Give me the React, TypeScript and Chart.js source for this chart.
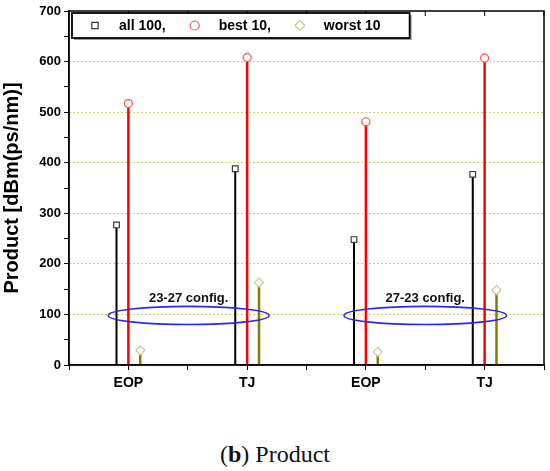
import React, { useEffect, useRef } from "react";
import { Chart, registerables } from "chart.js";
import { drawPoint } from "chart.js/helpers";

Chart.register(...registerables);

// ---- data ----
const categories = ["EOP", "TJ", "EOP", "TJ"];
const all100 = [277, 388, 248, 377];
const best10 = [517, 608, 481, 607];
const worst10 = [29, 163, 26, 148];
const yTicks = [0, 100, 200, 300, 400, 500, 600, 700];
const groupLabels = ["23-27 config.", "27-23 config."];
const groupFrom = [0.66, 4.63];
const groupTo = [3.37, 7.37];
const groupLevel = [98, 98];
const groupHalfHeight = [18, 18];

const catX = (i: number) => 2 * i + 1;

const seriesDefs = [
  { label: "all 100,", values: all100, off: -0.2, stem: "#000000", stemW: 2, style: "rect", mk: "#3a3a3a", r: 4 },
  { label: "best 10,", values: best10, off: 0, stem: "#ff0000", stemW: 2.5, style: "circle", mk: "#ff5050", r: 4 },
  { label: "worst 10", values: worst10, off: 0.2, stem: "#808000", stemW: 2.5, style: "rectRot", mk: "#c8c890", r: 4.5 },
];

const framePlugin = {
  id: "frame",
  afterDraw(chart: any) {
    const { ctx, chartArea: a, scales } = chart;
    ctx.save();
    ctx.strokeStyle = "#000";
    ctx.lineWidth = 1.5;
    ctx.strokeRect(a.left, a.top, a.right - a.left, a.bottom - a.top);
    ctx.lineWidth = 1;
    const xs = scales.x;
    for (let v = xs.min; v <= xs.max; v++) {
      const px = xs.getPixelForValue(v);
      ctx.beginPath();
      ctx.moveTo(px, a.top);
      ctx.lineTo(px, a.top + 5);
      ctx.stroke();
    }
    ctx.restore();
  },
};

const groupsPlugin = {
  id: "groups",
  afterDatasetsDraw(chart: any) {
    const { ctx, scales } = chart;
    const xs = scales.x, ys = scales.y;
    ctx.save();
    groupLabels.forEach((lab, i) => {
      const x0 = xs.getPixelForValue(groupFrom[i]);
      const x1 = xs.getPixelForValue(groupTo[i]);
      const yc = ys.getPixelForValue(groupLevel[i]);
      const ry = Math.abs(ys.getPixelForValue(groupLevel[i] + groupHalfHeight[i]) - yc);
      ctx.beginPath();
      ctx.strokeStyle = "#2a2ae6";
      ctx.lineWidth = 1.6;
      ctx.ellipse((x0 + x1) / 2, yc, (x1 - x0) / 2, ry, 0, 0, Math.PI * 2);
      ctx.stroke();
      ctx.fillStyle = "#111";
      ctx.font = "bold 13px Arial, 'Liberation Sans', sans-serif";
      ctx.textAlign = "center";
      ctx.textBaseline = "bottom";
      ctx.fillText(lab, (x0 + x1) / 2, yc - ry - 1);
    });
    ctx.restore();
  },
};

const legendPlugin = {
  id: "boxLegend",
  afterDraw(chart: any) {
    const { ctx, chartArea: a } = chart;
    ctx.save();
    ctx.font = "bold 14px Arial, 'Liberation Sans', sans-serif";
    const boxLeft = a.left + 3;
    const boxTop = a.top + 2;
    const boxH = 25;
    const cy = boxTop + boxH / 2;
    let x = boxLeft + 23;
    let textEnd = x;
    const items: any[] = [];
    seriesDefs.forEach((s) => {
      const w = ctx.measureText(s.label).width;
      items.push({ s, mx: x, tx: x + 24 });
      textEnd = x + 24 + w;
      x = textEnd + 29;
    });
    const boxW = textEnd + 29 - boxLeft;
    ctx.fillStyle = "#9a9a9a";
    ctx.fillRect(boxLeft + 2, boxTop + 2, boxW, boxH);
    ctx.fillStyle = "#fff";
    ctx.fillRect(boxLeft, boxTop, boxW, boxH);
    ctx.strokeStyle = "#000";
    ctx.lineWidth = 1.8;
    ctx.strokeRect(boxLeft, boxTop, boxW, boxH);
    items.forEach(({ s, mx, tx }) => {
      ctx.fillStyle = "#fff";
      ctx.strokeStyle = s.mk;
      ctx.lineWidth = 1.2;
      drawPoint(ctx, { pointStyle: s.style, radius: s.r + 0.5, borderWidth: 1.2, rotation: 0 } as any, mx, cy);
      ctx.fillStyle = "#000";
      ctx.textAlign = "left";
      ctx.textBaseline = "middle";
      ctx.fillText(s.label, tx, cy + 1);
    });
    ctx.restore();
  },
};

export default function App() {
  const ref = useRef<HTMLCanvasElement>(null);
  useEffect(() => {
    const markerSets = seriesDefs.map((s) => ({
      type: "scatter" as const,
      label: s.label,
      data: s.values.map((v, i) => ({ x: catX(i) + s.off, y: v })),
      pointStyle: s.style,
      pointRadius: s.r,
      pointBorderColor: s.mk,
      pointBackgroundColor: "#ffffff",
      pointBorderWidth: 1.2,
      showLine: false,
      order: 0,
    }));
    const stemSets = seriesDefs.map((s) => ({
      type: "line" as const,
      label: s.label + " stem",
      data: s.values.flatMap((v, i) => [
        { x: catX(i) + s.off, y: 0 },
        { x: catX(i) + s.off, y: v },
        { x: catX(i) + s.off, y: null },
      ]),
      borderColor: s.stem,
      borderWidth: s.stemW,
      pointRadius: 0,
      spanGaps: false,
      fill: false,
      order: 1,
    }));
    const chart = new Chart(ref.current!, {
      type: "scatter",
      data: { datasets: [...markerSets, ...stemSets] as any },
      options: {
        animation: false,
        responsive: false,
        layout: { padding: { top: 11, right: 6, left: 0, bottom: 0 } },
        plugins: { legend: { display: false }, tooltip: { enabled: false } },
        scales: {
          x: {
            type: "linear",
            min: 0,
            max: 8,
            afterFit: (s: any) => { s.height = 35; },
            afterBuildTicks: (s: any) => {
              const t = [];
              for (let v = 0; v <= 8; v++) t.push({ value: v });
              s.ticks = t;
            },
            ticks: {
              autoSkip: false,
              maxRotation: 0,
              padding: 5,
              color: "#000",
              font: { family: "Arial, 'Liberation Sans', sans-serif", size: 14, weight: "bold" },
              callback: (v: any) => {
                const i = (Number(v) - 1) / 2;
                return Number.isInteger(i) && categories[i] !== undefined ? categories[i] : "";
              },
            },
            grid: { drawOnChartArea: false, tickLength: 5, tickColor: "#000", color: "#000" },
            border: { color: "#000", width: 1.5 },
          },
          y: {
            min: 0,
            max: 700,
            afterFit: (s: any) => { s.width = 69; },
            afterBuildTicks: (s: any) => {
              const t: any[] = [];
              yTicks.forEach((v, i) => {
                t.push({ value: v });
                if (i < yTicks.length - 1) t.push({ value: (v + yTicks[i + 1]) / 2 });
              });
              s.ticks = t;
            },
            ticks: {
              padding: 3,
              color: "#000",
              font: { family: "Arial, 'Liberation Sans', sans-serif", size: 13, weight: "bold" },
              callback: (v: any) => (yTicks.includes(Number(v)) ? String(v) : ""),
            },
            grid: {
              tickLength: 5,
              tickColor: "#000",
              tickBorderDash: [],
              lineWidth: 1,
              color: (c: any) => {
                const v = c.tick ? c.tick.value : -1;
                return yTicks.includes(v) && v > 0 && v < 700 ? "#bfc160" : "rgba(0,0,0,0)";
              },
            },
            border: { color: "#000", width: 1.5, dash: [1.5, 2.5] },
            title: {
              display: true,
              text: "Product [dBm(ps/nm)]",
              color: "#000",
              padding: { top: 0, bottom: 2 },
              font: { family: "Arial, 'Liberation Sans', sans-serif", size: 20, weight: "bold" },
            },
          },
        },
      } as any,
      plugins: [framePlugin, groupsPlugin, legendPlugin],
    });
    return () => chart.destroy();
  }, []);

  return (
    <div style={{ position: "absolute", left: 0, top: 0, width: 550, height: 471, background: "#fff" }}>
      <canvas ref={ref} width={550} height={400} style={{ display: "block", width: 550, height: 400 }} />
      <div
        style={{
          position: "absolute",
          left: 0,
          top: 440,
          width: 550,
          textAlign: "center",
          fontFamily: "'Liberation Serif', 'DejaVu Serif', serif",
          fontSize: 24,
          lineHeight: "28px",
          color: "#111",
        }}
      >
        (<b>b</b>) Product
      </div>
    </div>
  );
}
